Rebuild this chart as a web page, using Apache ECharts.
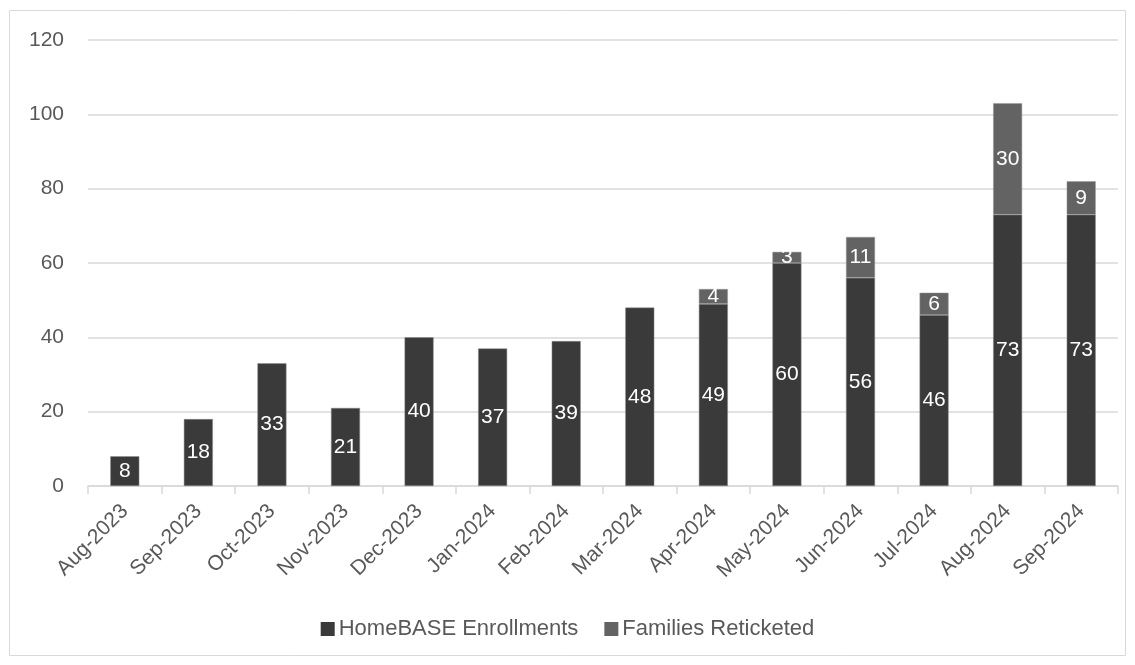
<!DOCTYPE html>
<html><head><meta charset="utf-8">
<script src="https://cdn.jsdelivr.net/npm/echarts@6/dist/echarts.min.js"></script>
<style>html,body{margin:0;padding:0;background:#fff}#c{width:1135px;height:665px}</style>
</head><body><div id="c"></div>
<script>
const categories = ['Aug-2023','Sep-2023','Oct-2023','Nov-2023','Dec-2023','Jan-2024','Feb-2024','Mar-2024','Apr-2024','May-2024','Jun-2024','Jul-2024','Aug-2024','Sep-2024'];
const enrollments = [8,18,33,21,40,37,39,48,49,60,56,46,73,73];
const reticketed = [null,null,null,null,null,null,null,null,4,3,11,6,30,9];
const yTicks = {min:0, max:120, interval:20};

const chart = echarts.init(document.getElementById('c'), null, {renderer:'canvas'});
const font = 'Liberation Sans';
chart.setOption({
  animation:false,
  graphic:[{type:'rect', shape:{x:9.5,y:10.5,width:1116,height:645}, style:{fill:'none', stroke:'#d9d9d9', lineWidth:1}}],
  grid:{left:88, right:17, top:40, bottom:179},
  legend:{bottom:20, left:'center', itemWidth:14, itemHeight:14, itemGap:26, icon:'rect',
    itemStyle:{borderWidth:0},
    textStyle:{fontFamily:font, fontSize:22, color:'#595959', padding:[0,0,0,-1]}},
  xAxis:{type:'category', data:categories,
    axisLine:{lineStyle:{color:'#d9d9d9', width:1.5}},
    axisTick:{show:true, alignWithLabel:false, length:8, lineStyle:{color:'#d9d9d9', width:1.5}},
    axisLabel:{rotate:45, interval:0, fontFamily:font, fontSize:21, color:'#595959', margin:22}},
  yAxis:{type:'value', min:yTicks.min, max:yTicks.max, interval:yTicks.interval,
    axisLine:{show:false}, axisTick:{show:false},
    splitLine:{lineStyle:{color:'#d9d9d9', width:1.5}},
    axisLabel:{fontFamily:font, fontSize:21, color:'#595959', margin:24}},
  series:[
    {name:'HomeBASE Enrollments', type:'bar', stack:'a', data:enrollments, barWidth:29,
     itemStyle:{color:'#3a3a3a', borderColor:'#8a8a8a', borderWidth:0.5},
     label:{show:true, position:'inside', color:'#fff', fontFamily:font, fontSize:21}},
    {name:'Families Reticketed', type:'bar', stack:'a', data:reticketed, barWidth:29,
     itemStyle:{color:'#636363', borderColor:'#9a9a9a', borderWidth:0.5},
     label:{show:true, position:'inside', color:'#fff', fontFamily:font, fontSize:21}}
  ]
});
</script></body></html>
